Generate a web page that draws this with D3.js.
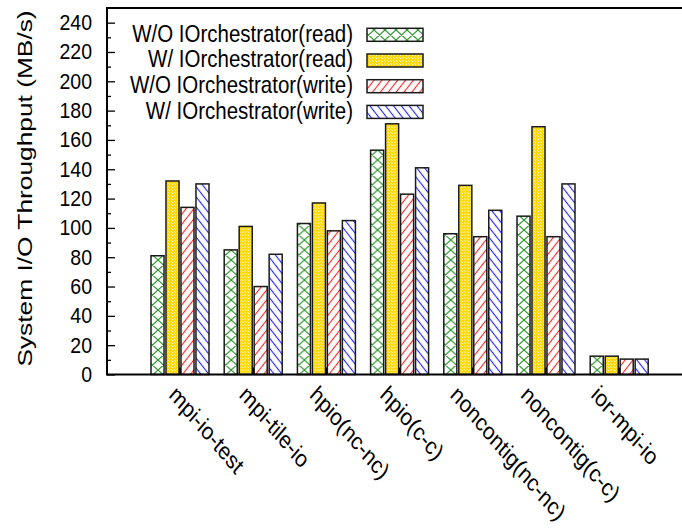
<!DOCTYPE html>
<html>
<head>
<meta charset="utf-8">
<script src="https://cdn.jsdelivr.net/npm/d3@7"></script>
<style>
  html, body { margin: 0; padding: 0; background: #fff; }
  svg { display: block; font-family: "Liberation Sans", Arial, sans-serif; }
</style>
</head>
<body>
<svg id="chart" width="682" height="529"></svg>
<script>
// ---- data ----
const categories = ["mpi-io-test", "mpi-tile-io", "hpio(nc-nc)", "hpio(c-c)", "noncontig(nc-nc)", "noncontig(c-c)", "ior-mpi-io"];
const seriesNames = ["W/O IOrchestrator(read)", "W/ IOrchestrator(read)", "W/O IOrchestrator(write)", "W/ IOrchestrator(write)"];
const woRead  = [81, 85, 103, 153, 96, 108, 12.5];
const wRead   = [132, 101, 117, 171, 129, 169, 12.5];
const woWrite = [114, 60, 98, 123, 94, 94, 10.5];
const wWrite  = [130, 82, 105, 141, 112, 130, 10.5];
const seriesValues = [woRead, wRead, woWrite, wWrite];
const majorTicks = [0, 20, 40, 60, 80, 100, 120, 140, 160, 180, 200, 220, 240];
const minorTicks = [10, 30, 50, 70, 90, 110, 130, 150, 170, 190, 210, 230];
const yLabel = "System I/O Throughput (MB/s)";

// ---- layout ----
const svg = d3.select("#chart");
const pLeft = 107, pTop = 8, pBottom = 374.5, pRight = 682;

const y = d3.scaleLinear().domain([0, 250]).range([pBottom, pTop]);
const x0 = d3.scaleBand().domain(categories).range([143.4, 655.8]).padding(0);
const x1 = d3.scaleBand().domain(seriesNames).range([-29, 29]).paddingInner(0.13).paddingOuter(0);
const labelX = d3.scalePoint().domain(categories).range([168, 590]);

// ---- patterns ----
const defs = svg.append("defs");
const pg = defs.append("pattern").attr("id", "pGreen").attr("patternUnits", "userSpaceOnUse")
  .attr("width", 11).attr("height", 10);
pg.append("rect").attr("width", 11).attr("height", 10).attr("fill", "#fff");
pg.append("path").attr("d", "M0,0L11,10M11,0L0,10M-1,9L1,11M10,-1L12,1M-1,1L1,-1M10,11L12,9")
  .attr("stroke", "#2f962f").attr("stroke-width", 1.2).attr("fill", "none");

const py = defs.append("pattern").attr("id", "pYellow").attr("patternUnits", "userSpaceOnUse")
  .attr("width", 3).attr("height", 3);
py.append("rect").attr("width", 3).attr("height", 3).attr("fill", "#ffd800");
py.append("rect").attr("x", 1).attr("y", 1).attr("width", 1).attr("height", 1).attr("fill", "#ffffff");
py.append("rect").attr("x", 0).attr("y", 0).attr("width", 1).attr("height", 1).attr("fill", "#fff09a");

const pr = defs.append("pattern").attr("id", "pRed").attr("patternUnits", "userSpaceOnUse")
  .attr("width", 6.2).attr("height", 10).attr("patternTransform", "rotate(38)");
pr.append("rect").attr("width", 6.2).attr("height", 10).attr("fill", "#fff");
pr.append("line").attr("x1", 3.1).attr("x2", 3.1).attr("y1", 0).attr("y2", 10)
  .attr("stroke", "#ff2020").attr("stroke-width", 1.1);

const pb = defs.append("pattern").attr("id", "pBlue").attr("patternUnits", "userSpaceOnUse")
  .attr("width", 6.2).attr("height", 10).attr("patternTransform", "rotate(-38)");
pb.append("rect").attr("width", 6.2).attr("height", 10).attr("fill", "#fff");
pb.append("line").attr("x1", 3.1).attr("x2", 3.1).attr("y1", 0).attr("y2", 10)
  .attr("stroke", "#2020ff").attr("stroke-width", 1.1);

const fills = ["url(#pGreen)", "url(#pYellow)", "url(#pRed)", "url(#pBlue)"];

// ---- bars ----
const groups = svg.append("g").selectAll("g").data(categories).join("g")
  .attr("transform", c => `translate(${x0(c) + x0.bandwidth() / 2},0)`);
groups.selectAll("rect").data((c, ci) => seriesNames.map((s, si) => ({ s, si, v: seriesValues[si][ci] })))
  .join("rect")
  .attr("x", d => x1(d.s))
  .attr("width", x1.bandwidth())
  .attr("y", d => y(d.v))
  .attr("height", d => pBottom - y(d.v))
  .attr("fill", d => fills[d.si])
  .attr("stroke", "#1a1a1a")
  .attr("stroke-width", 1.5);

// x ticks at category centers
svg.append("g").selectAll("line").data(categories).join("line")
  .attr("x1", c => x0(c) + x0.bandwidth() / 2).attr("x2", c => x0(c) + x0.bandwidth() / 2)
  .attr("y1", pBottom).attr("y2", pBottom - 7)
  .attr("stroke", "#000").attr("stroke-width", 1.5);

// ---- y axis ----
const yAxis = d3.axisLeft(y).tickValues(majorTicks).tickSize(-8).tickSizeOuter(0).tickPadding(15);
const ya = svg.append("g").attr("transform", `translate(${pLeft},0)`).call(yAxis);
ya.select(".domain").remove();
ya.selectAll(".tick line").attr("stroke", "#000").attr("stroke-width", 1.3);
ya.selectAll(".tick text").attr("font-size", 19.5).attr("fill", "#000")
  .attr("font-family", "Liberation Sans, Arial, sans-serif")
  .attr("transform", "scale(1,1.12)");
const yMinor = d3.axisLeft(y).tickValues(minorTicks).tickSize(-4).tickSizeOuter(0).tickFormat("");
const ym = svg.append("g").attr("transform", `translate(${pLeft},0)`).call(yMinor);
ym.select(".domain").remove();
ym.selectAll(".tick line").attr("stroke", "#000").attr("stroke-width", 1.3);

// ---- frame ----
svg.append("path")
  .attr("d", `M${pRight},${pTop}H${pLeft}V${pBottom}H${pRight}`)
  .attr("fill", "none").attr("stroke", "#000").attr("stroke-width", 2);

// ---- y label ----
svg.append("g").attr("transform", `translate(32,188.5) scale(1,1.316) rotate(-90)`)
  .append("text").attr("text-anchor", "middle").attr("font-size", 20).attr("fill", "#000")
  .text(yLabel);

// ---- x labels ----
svg.append("g").selectAll("g").data(categories).join("g")
  .attr("transform", c => `translate(${labelX(c)},396) scale(1,1.17) rotate(45)`)
  .append("text").attr("font-size", 20.5).attr("fill", "#000").attr("text-anchor", "start")
  .text(c => c);

// ---- legend ----
const legendRow = d3.scaleLinear().domain([0, 1]).range([41.5, 67.2]);
const lg = svg.append("g").selectAll("g").data(seriesNames).join("g");
lg.append("g").attr("transform", (s, i) => `translate(353,${legendRow(i)}) scale(1,1.18)`)
  .append("text").attr("text-anchor", "end").attr("font-size", 20.5).attr("fill", "#000")
  .text(s => s);
lg.append("rect")
  .attr("x", 367).attr("width", 56)
  .attr("y", (s, i) => legendRow(i) - 13.2).attr("height", 13)
  .attr("fill", (s, i) => fills[i])
  .attr("stroke", "#1a1a1a").attr("stroke-width", 1.5);
</script>
</body>
</html>
